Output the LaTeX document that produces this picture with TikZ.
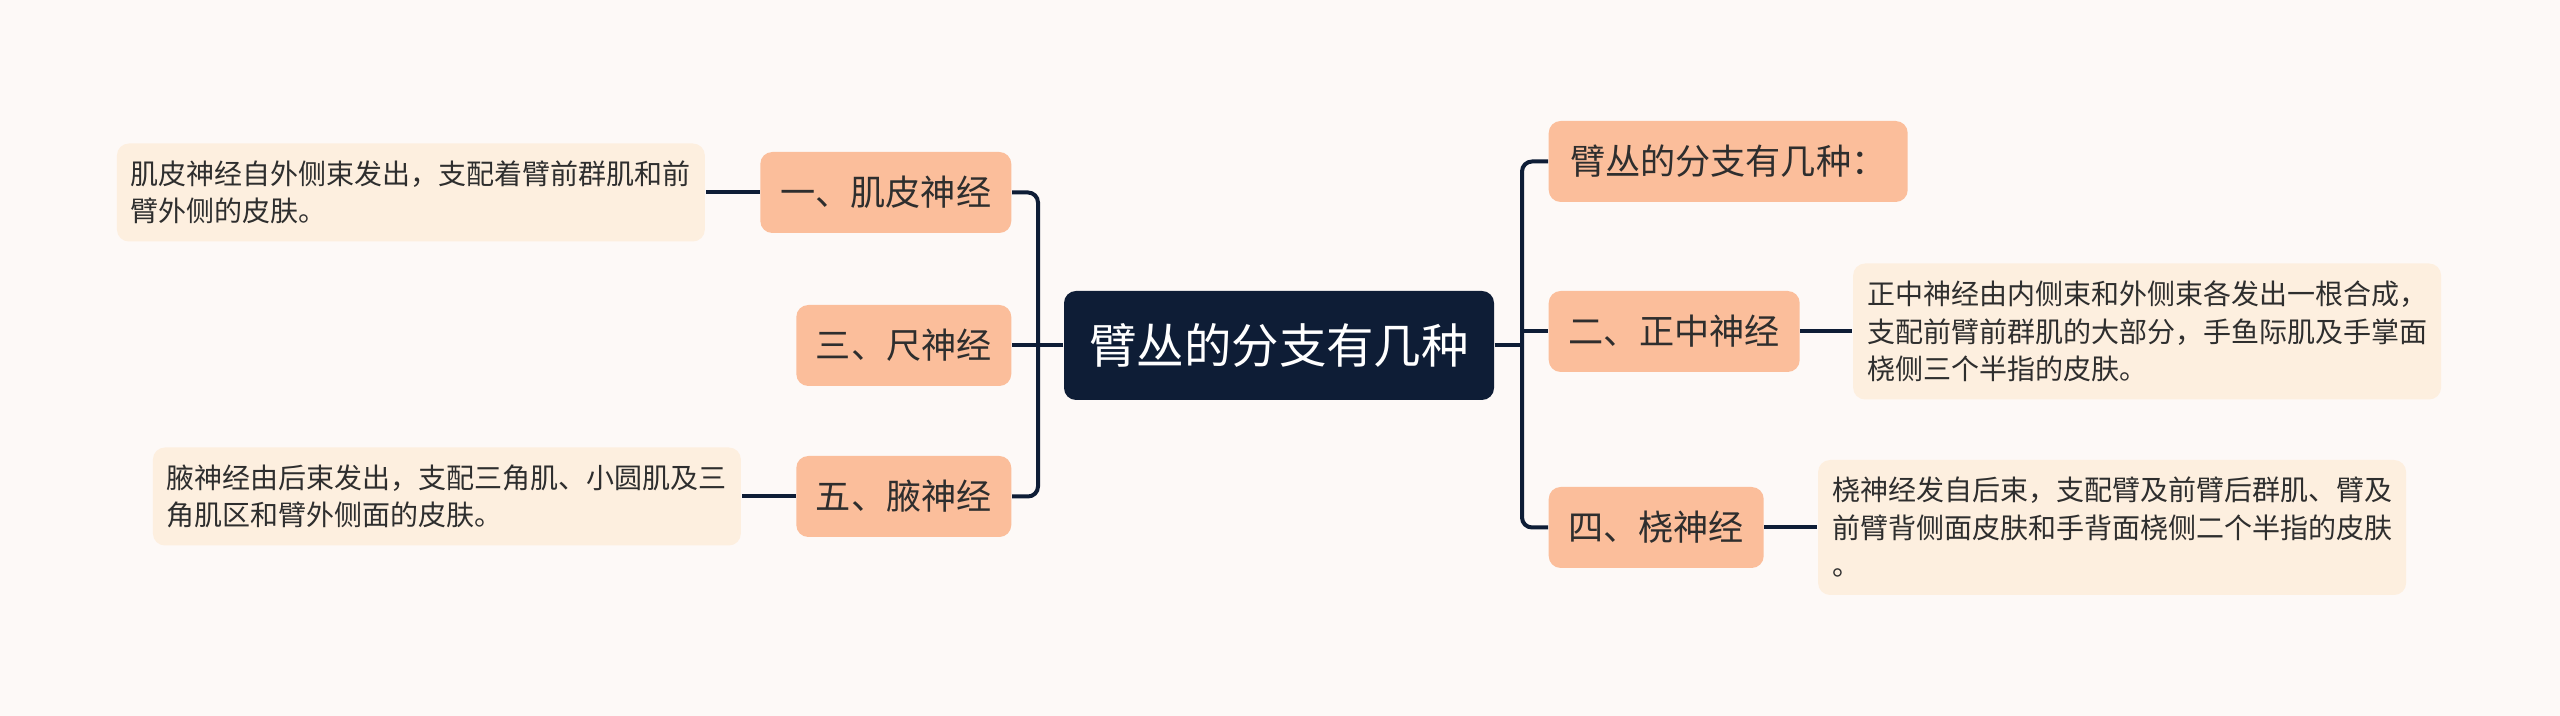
\documentclass[tikz,border=0pt]{standalone}
\usepackage{fontspec}
\setmainfont{Noto Sans CJK SC}
\usetikzlibrary{positioning}
\definecolor{bgpaper}{HTML}{FDF9F7}
\definecolor{rootnavy}{HTML}{0E1D36}
\definecolor{branchpeach}{HTML}{FBBE9B}
\definecolor{notecream}{HTML}{FDEFDF}
\definecolor{inkgray}{HTML}{2E2E2E}

\begin{document}
\begin{tikzpicture}[
  x=0.1mm, y=-0.1mm,
  root/.style={fill=rootnavy, text=white, rounded corners=1.2mm, minimum width=43mm, minimum height=10.9mm, inner sep=0pt, font=\fontsize{13.5}{16}\selectfont},
  branch/.style={fill=branchpeach, text=inkgray, rounded corners=1.2mm, minimum height=8.1mm, inner sep=0pt, font=\fontsize{10}{12}\selectfont},
  note/.style={fill=notecream, text=inkgray, rounded corners=1.2mm, minimum width=58.8mm, align=left, inner sep=0pt, font=\fontsize{7.97}{10.67}\selectfont},
  link/.style={draw=rootnavy, line width=0.4mm, rounded corners=1mm}
]
\fill[bgpaper] (0,0) rectangle (2560,716);
\node[root] (root) at (1279,345.5) {臂丛的分支有几种};
\coordinate (rj) at (1522,345.5);
\coordinate (lj) at (1038,345.5);
\node[branch, anchor=west, minimum width=35.9mm] (r1) at (1548,161.5) {臂丛的分支有几种：};
\node[branch, anchor=west, minimum width=25.1mm] (r2) at (1548,331.5) {二、正中神经};
\node[branch, anchor=west, minimum width=21.5mm] (r3) at (1548,527.5) {四、桡神经};
\node[branch, anchor=east, minimum width=25.1mm] (l1) at (1012,192.5) {一、肌皮神经};
\node[branch, anchor=east, minimum width=21.5mm] (l2) at (1012,345.5) {三、尺神经};
\node[branch, anchor=east, minimum width=21.5mm] (l3) at (1012,496.5) {五、腋神经};
\node[note, minimum height=13.6mm, right=5.2mm of r2] (n2) {正中神经由内侧束和外侧束各发出一根合成，\\支配前臂前群肌的大部分，手鱼际肌及手掌面\\桡侧三个半指的皮肤。};
\node[note, minimum height=13.5mm, right=5.3mm of r3] (n4) {桡神经发自后束，支配臂及前臂后群肌、臂及\\前臂背侧面皮肤和手背面桡侧二个半指的皮肤\\。};
\node[note, minimum height=9.8mm, left=5.4mm of l1] (n1) {肌皮神经自外侧束发出，支配着臂前群肌和前\\臂外侧的皮肤。};
\node[note, minimum height=9.8mm, left=5.4mm of l3] (n5) {腋神经由后束发出，支配三角肌、小圆肌及三\\角肌区和臂外侧面的皮肤。};
\draw[link] (root.east) -- (rj);
\draw[link] (r1.west) -| (rj) |- (r3.west);
\draw[link] (rj |- r2.west) -- (r2.west);
\draw[link] (root.west) -- (lj);
\draw[link] (l1.east) -| (lj) |- (l3.east);
\draw[link] (lj) -- (l2.east);
\draw[link] (r2) -- (n2);
\draw[link] (r3) -- (n4);
\draw[link] (l1) -- (n1);
\draw[link] (l3) -- (n5);
\end{tikzpicture}
\end{document}
